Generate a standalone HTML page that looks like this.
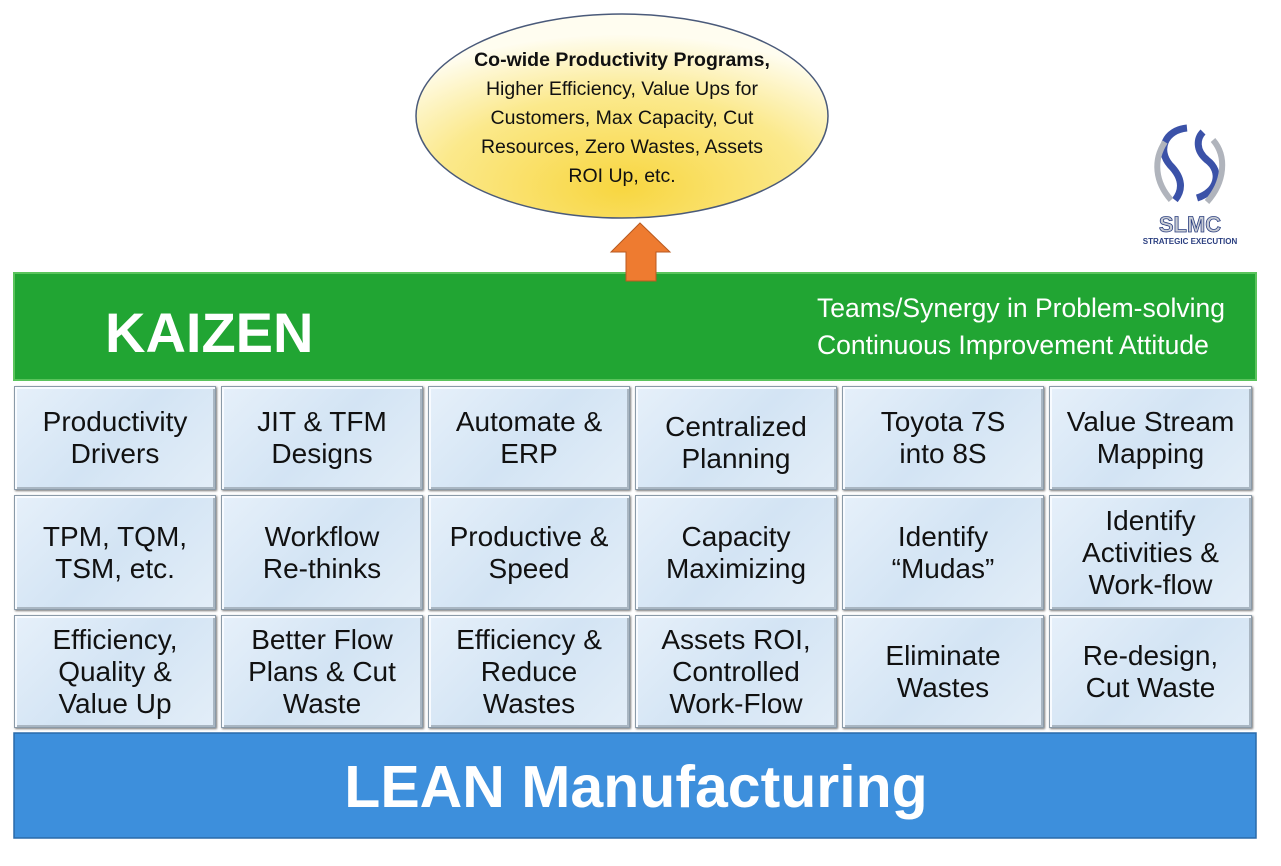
<!DOCTYPE html>
<html><head><meta charset="utf-8"><style>
body{margin:0;width:1281px;height:866px;background:#fff;position:relative;overflow:hidden;font-family:"Liberation Sans",Arial,sans-serif}
.box{position:absolute;background:linear-gradient(135deg,#e6f0fa,#d3e4f4 50%,#e3eef8);border:1px solid #8a9aa8;box-shadow:inset 2px 2px 0 #f8fbff,inset -2px -2px 0 #a9b6c2,1px 1px 2px #777;display:flex;align-items:center;justify-content:center;text-align:center;font-size:28px;line-height:32px;color:#111;box-sizing:border-box}
</style></head><body>
<svg width="1281" height="866" style="position:absolute;left:0;top:0">
<defs><radialGradient id="g" cx="50%" cy="85%" r="75%"><stop offset="0" stop-color="#f8d640"/><stop offset="0.6" stop-color="#fbe98c"/><stop offset="1" stop-color="#fffdf0"/></radialGradient></defs>
<ellipse cx="622" cy="116" rx="206" ry="102" fill="url(#g)" stroke="#4a5a7a" stroke-width="1.5"/>
<rect x="14" y="273" width="1242" height="107" fill="#21a533" stroke="#5ac45c" stroke-width="2"/>
<polygon points="640,223 670,252 656,252 656,281 626,281 626,252 611,252" fill="#ee7b30" stroke="#b85a20" stroke-width="1"/>
<rect x="14" y="733" width="1242" height="105" fill="#3d8fdc" stroke="#2a6aaa" stroke-width="1.5"/>
</svg>
<div style="position:absolute;left:400px;top:46px;width:444px;text-align:center;font-size:19.5px;line-height:29px;color:#111">
<b>Co-wide Productivity Programs,</b><br>Higher Efficiency, Value Ups for<br>Customers, Max Capacity, Cut<br>Resources, Zero Wastes, Assets<br>ROI Up, etc.</div>
<div style="position:absolute;left:105px;top:300px;font-size:56px;font-weight:bold;color:#fff">KAIZEN</div>
<div style="position:absolute;left:817px;top:290px;font-size:26.5px;line-height:37px;color:#fff;white-space:nowrap">Teams/Synergy in Problem-solving<br>Continuous Improvement Attitude</div>
<div style="position:absolute;left:0;top:753px;width:1272px;text-align:center;font-size:59px;font-weight:bold;color:#fff">LEAN Manufacturing</div>
<svg width="110" height="130" style="position:absolute;left:1135px;top:120px">
<path d="M52 8 C30 10 22 30 35 45 C48 58 48 70 40 80" fill="none" stroke="#3b52a8" stroke-width="7"/>
<path d="M62 78 C82 72 88 52 72 40 C60 30 62 18 68 12" fill="none" stroke="#3b52a8" stroke-width="7"/>
<path d="M30 22 C18 40 20 62 36 80" fill="none" stroke="#b0b4bc" stroke-width="6"/>
<path d="M78 20 C92 36 90 62 72 82" fill="none" stroke="#b0b4bc" stroke-width="6"/>
<text x="55" y="112" text-anchor="middle" font-size="22" font-weight="bold" fill="#c8ccd4" stroke="#2b3f80" stroke-width="0.8" font-family="Liberation Sans">SLMC</text>
<text x="55" y="124" text-anchor="middle" font-size="8" font-weight="bold" fill="#2b3f80" font-family="Liberation Sans">STRATEGIC EXECUTION</text>
</svg>
<div class="box" style="left:14px;top:386px;width:202px;height:104px">Productivity<br>Drivers</div>
<div class="box" style="left:221px;top:386px;width:202px;height:104px">JIT &amp; TFM<br>Designs</div>
<div class="box" style="left:428px;top:386px;width:202px;height:104px">Automate &amp;<br>ERP</div>
<div class="box" style="left:635px;top:386px;width:202px;height:104px;padding-top:10px">Centralized<br>Planning</div>
<div class="box" style="left:842px;top:386px;width:202px;height:104px">Toyota 7S<br>into 8S</div>
<div class="box" style="left:1049px;top:386px;width:203px;height:104px">Value Stream<br>Mapping</div>
<div class="box" style="left:14px;top:495px;width:202px;height:115px">TPM, TQM,<br>TSM, etc.</div>
<div class="box" style="left:221px;top:495px;width:202px;height:115px">Workflow<br>Re-thinks</div>
<div class="box" style="left:428px;top:495px;width:202px;height:115px">Productive &amp;<br>Speed</div>
<div class="box" style="left:635px;top:495px;width:202px;height:115px">Capacity<br>Maximizing</div>
<div class="box" style="left:842px;top:495px;width:202px;height:115px">Identify<br>“Mudas”</div>
<div class="box" style="left:1049px;top:495px;width:203px;height:115px">Identify<br>Activities &amp;<br>Work-flow</div>
<div class="box" style="left:14px;top:615px;width:202px;height:113px">Efficiency,<br>Quality &amp;<br>Value Up</div>
<div class="box" style="left:221px;top:615px;width:202px;height:113px">Better Flow<br>Plans &amp; Cut<br>Waste</div>
<div class="box" style="left:428px;top:615px;width:202px;height:113px">Efficiency &amp;<br>Reduce<br>Wastes</div>
<div class="box" style="left:635px;top:615px;width:202px;height:113px">Assets ROI,<br>Controlled<br>Work-Flow</div>
<div class="box" style="left:842px;top:615px;width:202px;height:113px">Eliminate<br>Wastes</div>
<div class="box" style="left:1049px;top:615px;width:203px;height:113px">Re-design,<br>Cut Waste</div>
</body></html>
